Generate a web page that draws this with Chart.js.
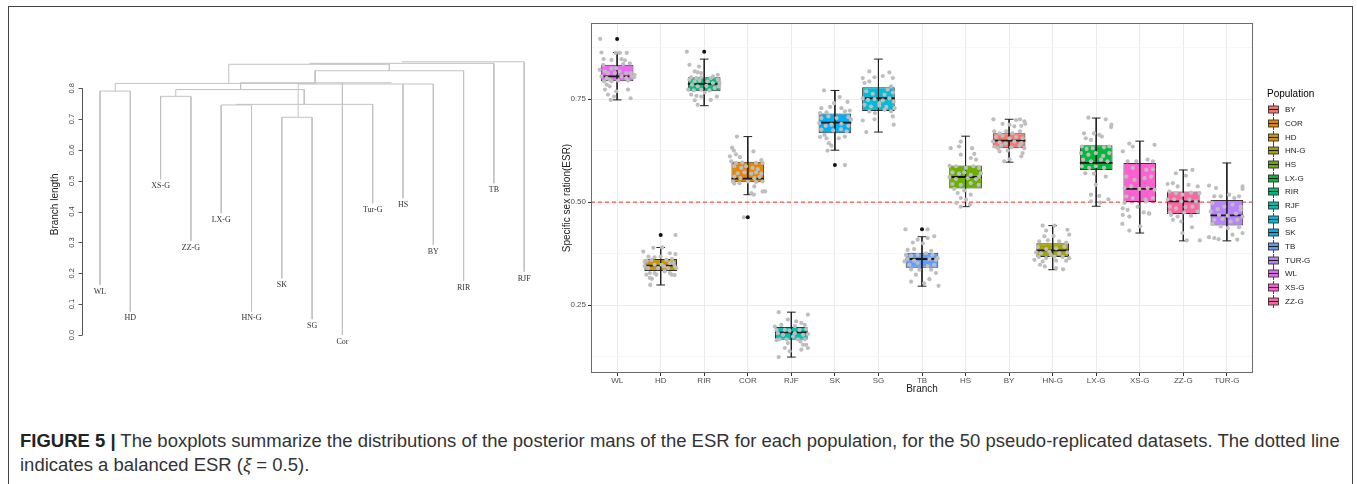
<!DOCTYPE html>
<html>
<head>
<meta charset="utf-8">
<script src="https://cdn.jsdelivr.net/npm/chart.js@4.4.1/dist/chart.umd.min.js"></script>
<style>
html,body{margin:0;padding:0;background:#fff;width:1357px;height:484px;overflow:hidden;font-family:"Liberation Sans",Arial,sans-serif;}
#frame{position:absolute;left:8px;top:6px;width:1345px;height:520px;border:1px solid #444;box-sizing:border-box;}
#dendro{position:absolute;left:40px;top:40px;}
#box{position:absolute;left:555px;top:13px;}
#caption{position:absolute;left:20px;top:429px;color:#333;line-height:24px;white-space:nowrap;font-size:16px;}
#caption b{font-weight:bold;color:#222;}
</style>
</head>
<body>
<div id="frame"></div>
<canvas id="dendro" width="520" height="320" style="width:520px;height:320px"></canvas>
<canvas id="box" width="795" height="397" style="width:795px;height:397px"></canvas>
<div id="caption"><div id="cap1"><b>FIGURE 5 |</b> The boxplots summarize the distributions of the posterior mans of the ESR for each population, for the 50 pseudo-replicated datasets. The dotted line</div><div id="cap2">indicates a balanced ESR (<i>ξ</i> = 0.5).</div></div>
<script>
// ---------------- Box plot data ----------------
const categories  = ['WL','HD','RIR','COR','RJF','SK','SG','TB','HS','BY','HN-G','LX-G','XS-G','ZZ-G','TUR-G'];
const whiskerLow  = [0.748,0.299,0.734,0.518,0.124,0.626,0.670,0.296,0.489,0.597,0.336,0.490,0.425,0.406,0.406];
const q1          = [0.793,0.333,0.769,0.548,0.166,0.667,0.721,0.341,0.533,0.631,0.367,0.578,0.500,0.471,0.443];
const medians     = [0.805,0.346,0.787,0.557,0.184,0.693,0.752,0.362,0.561,0.649,0.383,0.595,0.532,0.502,0.468];
const q3          = [0.833,0.362,0.803,0.598,0.197,0.715,0.779,0.377,0.589,0.667,0.400,0.638,0.595,0.526,0.505];
const whiskerHigh = [0.863,0.390,0.847,0.659,0.233,0.771,0.847,0.416,0.660,0.701,0.443,0.704,0.648,0.578,0.595];
const outliers    = [[0.896],[0.420],[0.865],[0.463],[],[0.590],[],[0.434],[],[],[],[],[],[],[]];
const balancedESR = 0.5;
const yMajorTicks = [0.25,0.50,0.75];
const yMinorTicks = [0.125,0.375,0.625,0.875];

const legendTitle      = 'Population';
const populations      = ['BY','COR','HD','HN-G','HS','LX-G','RIR','RJF','SG','SK','TB','TUR-G','WL','XS-G','ZZ-G'];
const populationColors = ['#F8766D','#E58700','#C99800','#A3A500','#6BB100','#00BA38','#00BF7D','#00C0AF','#00BCD8','#00B0F6','#619CFF','#B983FF','#E76BF3','#FD61D1','#FF67A4'];

// jittered replicate estimates: [horizontal jitter (category units), ESR]
const jitterWL = [[-0.39,0.896],[-0.36,0.863],[-0.03,0.862],[0.06,0.862],[0.22,0.862],[-0.31,0.847],[-0.13,0.845],[0.10,0.847],[0.18,0.844],[0.29,0.837],[0.14,0.835],[-0.32,0.833],[-0.13,0.824],[-0.02,0.825],[-0.40,0.821],[-0.28,0.817],[-0.21,0.813],[-0.05,0.813],[0.06,0.817],[0.21,0.813],[0.31,0.813],[0.40,0.809],[-0.36,0.805],[-0.24,0.801],[-0.17,0.797],[0.10,0.805],[0.21,0.801],[0.33,0.805],[0.39,0.803],[-0.30,0.793],[-0.13,0.793],[0.02,0.795],[0.25,0.795],[-0.24,0.785],[-0.17,0.781],[-0.28,0.773],[-0.02,0.769],[0.25,0.773],[-0.21,0.761],[-0.07,0.756],[-0.15,0.748],[0.31,0.752]];
const jitterHD = [[0.34,0.420],[-0.40,0.380],[-0.17,0.389],[0.03,0.390],[0.21,0.376],[0.34,0.374],[-0.28,0.368],[-0.14,0.366],[0.00,0.368],[-0.32,0.358],[-0.21,0.360],[0.13,0.360],[0.26,0.362],[-0.37,0.345],[-0.29,0.340],[-0.14,0.348],[0.02,0.348],[0.21,0.352],[0.32,0.345],[0.36,0.340],[-0.25,0.328],[-0.14,0.328],[0.21,0.328],[0.25,0.324],[0.32,0.323],[-0.33,0.324],[-0.25,0.316],[-0.20,0.314],[-0.10,0.324],[-0.24,0.299],[0.09,0.332],[-0.06,0.340],[0.08,0.344],[0.17,0.340],[-0.37,0.355],[0.29,0.352]];
const jitterRIR = [[-0.40,0.865],[-0.34,0.833],[-0.12,0.829],[-0.22,0.817],[-0.15,0.815],[-0.07,0.813],[-0.30,0.803],[-0.18,0.801],[-0.07,0.803],[0.15,0.801],[0.31,0.809],[-0.22,0.793],[-0.11,0.795],[0.08,0.793],[0.20,0.789],[0.31,0.797],[0.35,0.789],[-0.28,0.785],[-0.15,0.781],[0.05,0.782],[0.24,0.777],[0.33,0.781],[-0.37,0.773],[-0.24,0.771],[-0.07,0.773],[0.12,0.771],[-0.30,0.761],[-0.18,0.758],[-0.07,0.756],[0.29,0.756],[-0.22,0.747],[-0.15,0.736],[0.15,0.748],[0.01,0.766],[-0.34,0.797],[0.20,0.805]];
const jitterCOR = [[-0.25,0.659],[-0.36,0.632],[-0.32,0.625],[-0.27,0.616],[-0.41,0.611],[-0.18,0.609],[0.13,0.623],[0.31,0.602],[-0.38,0.599],[-0.27,0.595],[-0.13,0.596],[0.19,0.595],[0.34,0.595],[-0.31,0.587],[-0.15,0.583],[-0.04,0.587],[0.11,0.583],[0.23,0.580],[-0.23,0.570],[-0.08,0.572],[0.08,0.569],[0.19,0.572],[0.31,0.569],[-0.31,0.562],[-0.17,0.558],[0.15,0.558],[0.27,0.561],[-0.34,0.550],[-0.19,0.546],[0.00,0.550],[0.19,0.549],[0.34,0.550],[-0.31,0.545],[0.15,0.538],[0.34,0.526],[0.40,0.526],[0.08,0.522],[0.14,0.518],[-0.09,0.463]];
const jitterRJF = [[-0.29,0.233],[0.38,0.227],[-0.08,0.215],[0.11,0.211],[0.23,0.207],[-0.38,0.198],[-0.23,0.202],[0.08,0.199],[0.31,0.202],[-0.34,0.190],[-0.15,0.190],[-0.04,0.188],[0.19,0.190],[0.34,0.192],[-0.31,0.182],[-0.19,0.178],[0.08,0.182],[0.27,0.178],[0.38,0.180],[-0.27,0.167],[-0.11,0.167],[0.15,0.167],[0.31,0.167],[-0.34,0.165],[0.21,0.162],[0.38,0.146],[0.27,0.154],[-0.08,0.158],[-0.15,0.146],[-0.04,0.138],[-0.29,0.124],[0.23,0.142],[0.34,0.154],[0.04,0.174]];
const jitterSK = [[-0.25,0.771],[0.11,0.755],[0.29,0.743],[-0.31,0.728],[-0.11,0.731],[0.15,0.728],[0.34,0.722],[-0.34,0.716],[-0.19,0.718],[0.23,0.720],[-0.31,0.704],[-0.15,0.708],[0.04,0.704],[0.31,0.706],[-0.36,0.692],[-0.21,0.685],[-0.08,0.688],[0.15,0.690],[0.31,0.685],[-0.31,0.676],[-0.04,0.674],[0.14,0.677],[0.27,0.672],[-0.34,0.658],[-0.19,0.655],[0.09,0.655],[0.23,0.659],[-0.14,0.643],[-0.08,0.637],[-0.17,0.625],[0.23,0.590],[-0.24,0.663],[0.37,0.700],[-0.02,0.740]];
const jitterSG = [[-0.21,0.817],[0.25,0.815],[-0.36,0.801],[-0.09,0.803],[0.10,0.806],[0.33,0.801],[-0.32,0.789],[-0.21,0.793],[0.29,0.781],[0.21,0.773],[-0.28,0.769],[-0.13,0.763],[0.14,0.761],[0.33,0.766],[-0.36,0.752],[-0.24,0.748],[-0.09,0.750],[0.10,0.747],[0.25,0.752],[0.35,0.744],[-0.32,0.736],[-0.17,0.732],[0.02,0.734],[0.18,0.731],[0.37,0.728],[-0.21,0.720],[-0.08,0.716],[0.14,0.724],[0.29,0.720],[-0.36,0.698],[-0.09,0.701],[0.33,0.708],[0.35,0.688],[-0.28,0.670],[0.02,0.740]];
const jitterTB = [[-0.38,0.434],[0.13,0.434],[-0.10,0.409],[0.13,0.413],[0.28,0.417],[-0.21,0.402],[0.02,0.400],[-0.33,0.384],[-0.18,0.386],[0.21,0.382],[-0.37,0.372],[-0.25,0.370],[-0.10,0.372],[0.09,0.376],[0.24,0.372],[-0.33,0.362],[-0.18,0.358],[0.17,0.362],[0.32,0.360],[-0.29,0.348],[-0.10,0.352],[0.13,0.345],[0.28,0.348],[-0.25,0.337],[-0.06,0.336],[0.21,0.336],[0.32,0.328],[-0.14,0.324],[0.17,0.313],[-0.25,0.307],[0.05,0.303],[0.38,0.297],[0.36,0.364],[-0.40,0.356]];
const jitterHS = [[-0.11,0.647],[-0.34,0.631],[-0.15,0.635],[0.15,0.631],[-0.11,0.615],[0.20,0.617],[0.12,0.607],[0.24,0.603],[-0.37,0.588],[-0.22,0.587],[0.01,0.583],[0.18,0.587],[0.31,0.583],[-0.30,0.572],[-0.15,0.569],[-0.03,0.572],[0.12,0.566],[0.31,0.562],[-0.37,0.561],[-0.22,0.556],[0.05,0.558],[0.24,0.556],[-0.30,0.544],[-0.11,0.542],[0.12,0.546],[0.30,0.542],[-0.26,0.532],[-0.03,0.528],[-0.18,0.522],[0.12,0.518],[-0.11,0.510],[0.01,0.506],[-0.21,0.498],[-0.11,0.489],[0.10,0.494],[0.35,0.570]];
const jitterBY = [[-0.36,0.701],[0.16,0.699],[0.25,0.701],[0.35,0.696],[-0.15,0.690],[0.01,0.688],[0.12,0.684],[0.28,0.685],[0.37,0.690],[-0.34,0.672],[-0.22,0.667],[-0.07,0.672],[0.08,0.667],[0.25,0.672],[-0.30,0.658],[-0.15,0.661],[0.01,0.655],[0.16,0.658],[0.31,0.655],[-0.37,0.647],[-0.22,0.645],[-0.08,0.642],[0.12,0.647],[0.28,0.643],[-0.34,0.635],[-0.18,0.637],[0.05,0.633],[0.24,0.637],[0.35,0.631],[-0.22,0.623],[-0.03,0.625],[0.31,0.619],[0.28,0.611],[-0.11,0.599],[0.01,0.604],[-0.26,0.631]];
const jitterHNG = [[-0.23,0.443],[0.04,0.443],[-0.15,0.431],[0.34,0.433],[-0.19,0.417],[0.02,0.418],[0.38,0.421],[-0.31,0.405],[-0.11,0.407],[0.15,0.405],[0.31,0.402],[-0.34,0.391],[-0.15,0.386],[0.08,0.388],[0.27,0.392],[-0.38,0.378],[-0.27,0.376],[-0.08,0.380],[0.15,0.376],[0.34,0.378],[-0.32,0.367],[-0.15,0.364],[0.04,0.368],[0.23,0.367],[0.38,0.364],[-0.42,0.360],[-0.23,0.356],[0.08,0.358],[0.31,0.358],[-0.29,0.348],[-0.18,0.344],[0.08,0.340],[0.24,0.337],[-0.04,0.372]];
const jitterLXG = [[-0.18,0.705],[0.22,0.701],[-0.28,0.667],[-0.05,0.667],[0.07,0.663],[0.13,0.659],[0.35,0.688],[0.34,0.682],[-0.24,0.655],[-0.12,0.651],[-0.33,0.635],[-0.22,0.629],[-0.08,0.631],[0.18,0.633],[0.30,0.635],[-0.35,0.619],[-0.18,0.615],[-0.01,0.619],[0.16,0.612],[0.30,0.619],[-0.30,0.603],[-0.12,0.599],[0.11,0.603],[0.26,0.599],[-0.33,0.587],[-0.16,0.583],[-0.01,0.587],[0.18,0.583],[-0.05,0.569],[0.22,0.562],[-0.01,0.542],[-0.12,0.518],[0.07,0.515],[0.09,0.499],[-0.12,0.502],[0.28,0.507],[-0.25,0.570]];
const jitterXSG = [[-0.24,0.642],[-0.16,0.635],[0.34,0.639],[-0.28,0.599],[-0.08,0.599],[0.18,0.603],[0.30,0.599],[-0.39,0.623],[-0.16,0.583],[0.15,0.578],[0.30,0.580],[-0.31,0.562],[-0.12,0.554],[0.11,0.558],[0.26,0.562],[-0.35,0.534],[-0.20,0.538],[-0.01,0.532],[0.18,0.534],[0.34,0.530],[-0.31,0.514],[-0.16,0.510],[0.13,0.506],[0.30,0.510],[-0.39,0.485],[-0.28,0.481],[-0.05,0.489],[0.09,0.475],[0.21,0.473],[-0.39,0.469],[-0.24,0.465],[0.22,0.472],[-0.40,0.447],[-0.24,0.431],[0.01,0.441],[0.15,0.502],[-0.35,0.498]];
const jitterZZG = [[-0.17,0.570],[0.21,0.578],[0.06,0.564],[-0.36,0.544],[-0.24,0.546],[-0.13,0.538],[0.12,0.542],[0.33,0.538],[-0.32,0.526],[-0.17,0.522],[-0.02,0.518],[0.18,0.523],[0.37,0.522],[-0.36,0.506],[-0.21,0.507],[-0.05,0.502],[0.14,0.506],[0.29,0.502],[-0.31,0.489],[-0.17,0.485],[0.05,0.488],[0.21,0.489],[-0.28,0.469],[-0.13,0.465],[0.02,0.475],[0.18,0.467],[-0.24,0.457],[-0.05,0.453],[0.20,0.439],[-0.02,0.425],[0.08,0.407],[0.38,0.407],[-0.31,0.475],[0.33,0.477]];
const jitterTURG = [[-0.41,0.540],[-0.25,0.534],[0.36,0.538],[0.36,0.532],[-0.29,0.514],[-0.14,0.514],[0.05,0.518],[0.17,0.510],[0.28,0.514],[-0.33,0.498],[-0.21,0.483],[-0.06,0.489],[0.13,0.494],[0.32,0.489],[-0.37,0.477],[-0.18,0.469],[0.02,0.467],[0.21,0.472],[0.36,0.465],[-0.29,0.457],[-0.10,0.459],[0.09,0.453],[0.24,0.457],[-0.33,0.447],[-0.14,0.441],[0.02,0.437],[0.28,0.439],[0.36,0.425],[-0.41,0.415],[-0.29,0.413],[-0.19,0.410],[0.24,0.409],[0.13,0.421],[0.32,0.481]];
const jitterGroups = [jitterWL,jitterHD,jitterRIR,jitterCOR,jitterRJF,jitterSK,jitterSG,jitterTB,jitterHS,jitterBY,jitterHNG,jitterLXG,jitterXSG,jitterZZG,jitterTURG];

// ---------------- Dendrogram data ----------------
const leafNames   = ['WL','HD','XS-G','ZZ-G','LX-G','HN-G','SK','SG','Cor','Tur-G','HS','BY','RIR','TB','RJF'];
const leafHeights = [0.162,0.076,0.505,0.305,0.395,0.076,0.184,0.051,0.000,0.427,0.443,0.292,0.175,0.492,0.205];
const leafJoins   = [0.791,0.791,0.774,0.774,0.746,0.746,0.706,0.706,0.818,0.748,0.814,0.814,0.857,0.881,0.886];
// horizontal node bars: [from leaf position, to leaf position, height]
const nodeBars  = [[1,2,0.791],[1.505,8.10,0.816],[5.25,10.55,0.878],[7.91,14,0.881],[10.96,15,0.886],[8.10,13,0.857],[5.64,10.62,0.818],[7.54,12,0.814],[3,4,0.774],[3.5,7.74,0.796],[5,6,0.746],[5.5,10,0.748],[7,8,0.706]];
// vertical node stems: [leaf position, from height, to height]
const nodeStems = [[1.505,0.791,0.816],[5.25,0.816,0.878],[10.55,0.878,0.857],[8.10,0.857,0.816],[5.64,0.818,0.796],[3.5,0.774,0.796],[7.74,0.796,0.748],[7.54,0.706,0.814],[5.5,0.746,0.748]];
const branchTicks = [0,0.1,0.2,0.3,0.4,0.5,0.6,0.7,0.8];

// ---------------- Box plot chart ----------------
const BOX_HALF = 0.375, CAP_HALF = 0.1;
const colorOf = name => populationColors[populations.indexOf(name)];
const boxData = categories.map((c,i)=>({x:i, y:[q1[i], q3[i]]}));
const medianData = [], whiskerData = [];
categories.forEach((c,i)=>{
  medianData.push({x:i-BOX_HALF,y:medians[i]},{x:i+BOX_HALF,y:medians[i]},{x:i,y:null});
  whiskerData.push({x:i-CAP_HALF,y:whiskerHigh[i]},{x:i+CAP_HALF,y:whiskerHigh[i]},{x:i,y:null},
                   {x:i,y:whiskerHigh[i]},{x:i,y:whiskerLow[i]},{x:i,y:null},
                   {x:i-CAP_HALF,y:whiskerLow[i]},{x:i+CAP_HALF,y:whiskerLow[i]},{x:i,y:null});
});
const jitterData = jitterGroups.flatMap((g,i)=>g.map(p=>({x:i+p[0], y:p[1]})));
const outlierData = outliers.flatMap((g,i)=>g.map(v=>({x:i, y:v})));
const xMin = -0.6, xMax = categories.length - 1 + 0.6;
const refData = [{x:xMin,y:balancedESR},{x:xMax,y:balancedESR}];

const panelBorder = {
  id:'panelBorder',
  beforeDraw(chart){ const c=chart.ctx; c.save(); c.fillStyle='#fff'; c.fillRect(0,0,chart.width,chart.height); c.restore(); },
  afterDraw(chart){
    const {ctx, chartArea:a} = chart;
    ctx.save(); ctx.strokeStyle='#6b6b6b'; ctx.lineWidth=1;
    ctx.strokeRect(Math.round(a.left)+0.5, Math.round(a.top)+0.5, Math.round(a.right-a.left)-1, Math.round(a.bottom-a.top)-1);
    // legend (ggplot style keys)
    const lx = Math.round(a.right) + 14, ty = 81, y0 = 96.3, step = 13.67;
    ctx.fillStyle = '#000'; ctx.font = '10px "Liberation Sans"';
    ctx.textAlign = 'left'; ctx.textBaseline = 'middle';
    ctx.fillText(legendTitle, lx, ty);
    ctx.font = '8px "Liberation Sans"'; 
    populations.forEach((p,k)=>{
      const cy = Math.round(y0 + k*step) + 0.5, kx = lx + 1.5;
      ctx.strokeStyle = '#333'; ctx.lineWidth = 0.9;
      ctx.beginPath(); ctx.moveTo(kx+5, cy-6.5); ctx.lineTo(kx+5, cy+6.5); ctx.stroke();
      ctx.fillStyle = populationColors[k];
      ctx.fillRect(kx, cy-3.5, 10, 7);
      ctx.strokeRect(kx, cy-3.5, 10, 7);
      ctx.strokeStyle = '#222'; ctx.lineWidth = 1.1;
      ctx.beginPath(); ctx.moveTo(kx, cy); ctx.lineTo(kx+10, cy); ctx.stroke();
      ctx.fillStyle = '#1a1a1a';
      ctx.fillText(p, lx + 18, cy);
    });
    ctx.restore();
  }
};

new Chart(document.getElementById('box'), {
  type:'bar',
  data:{ datasets:[
    {type:'line', data:refData, borderColor:'#ff2a2a', borderWidth:1, borderDash:[4,3], pointRadius:0, order:6},
    {type:'bar', data:boxData, backgroundColor:categories.map(colorOf), borderColor:'#333333', borderWidth:1, borderSkipped:false, barPercentage:0.75, categoryPercentage:1, order:5},
    {type:'line', data:whiskerData, borderColor:'#222', borderWidth:1, pointRadius:0, spanGaps:false, order:4},
    {type:'line', data:medianData, borderColor:'#1a1a1a', borderWidth:1.8, pointRadius:0, spanGaps:false, order:3},
    {type:'scatter', data:jitterData, backgroundColor:'#bebebe', borderWidth:0, pointRadius:2.1, order:2},
    {type:'scatter', data:outlierData, backgroundColor:'#111', borderWidth:0, pointRadius:2, order:1}
  ]},
  options:{
    responsive:false, animation:false, devicePixelRatio:1,
    layout:{padding:{top:10,right:97,left:0,bottom:0}},
    plugins:{legend:{display:false}, tooltip:{enabled:false}},
    scales:{
      x:{type:'linear', min:xMin, max:xMax, offset:false,
        afterBuildTicks:s=>{ s.ticks = categories.map((c,i)=>({value:i})); },
        afterFit:s=>{ s.height = 37; },
        ticks:{callback:v=>categories[v], font:{family:'Liberation Sans', size:8}, color:'#4d4d4d', padding:0, autoSkip:false, maxRotation:0, minRotation:0},
        grid:{offset:false, color:'#ebebeb', lineWidth:1, tickLength:3, tickColor:'#333', drawTicks:true},
        border:{display:false},
        title:{display:true, text:'Branch', font:{family:'Liberation Sans', size:10}, color:'#1a1a1a', padding:{top:0,bottom:14.3}}
      },
      y:{type:'linear', min:0.0854, max:0.9346,
        afterBuildTicks:s=>{ s.ticks = [...yMinorTicks, ...yMajorTicks].sort((a,b)=>a-b).map(v=>({value:v})); },
        afterFit:s=>{ s.width = 36; },
        ticks:{callback:v=>yMajorTicks.includes(v)?v.toFixed(2):'', font:{family:'Liberation Sans', size:8}, color:'#4d4d4d', padding:2},
        grid:{color:c=>yMajorTicks.includes(c.tick&&c.tick.value)?'#ebebeb':'#f4f4f4',
              lineWidth:c=>yMajorTicks.includes(c.tick&&c.tick.value)?1:0.7,
              tickColor:c=>yMajorTicks.includes(c.tick&&c.tick.value)?'#333':'rgba(0,0,0,0)',
              tickLength:3, drawTicks:true},
        border:{display:false},
        title:{display:true, text:'Specific sex ration(ESR)', font:{family:'Liberation Sans', size:10}, color:'#1a1a1a', padding:{top:6.7,bottom:0}}
      }
    }
  },
  plugins:[panelBorder]
});

// ---------------- Dendrogram chart ----------------
const treeData = [];
leafNames.forEach((n,i)=>{ treeData.push({x:i+1,y:leafJoins[i]},{x:i+1,y:leafHeights[i]},{x:i+1,y:null}); });
nodeBars.forEach(b=>{ treeData.push({x:b[0],y:b[2]},{x:b[1],y:b[2]},{x:b[0],y:null}); });
nodeStems.forEach(s=>{ treeData.push({x:s[0],y:s[1]},{x:s[0],y:s[2]},{x:s[0],y:null}); });

const dendroDecor = {
  id:'dendroDecor',
  afterDraw(chart){
    const {ctx, chartArea:a, scales:{x, y}} = chart;
    ctx.save();
    const ax = Math.round(a.left) - 0.5;
    ctx.strokeStyle = '#555'; ctx.lineWidth = 1;
    ctx.beginPath();
    ctx.moveTo(ax, y.getPixelForValue(branchTicks[0]));
    ctx.lineTo(ax, y.getPixelForValue(branchTicks[branchTicks.length-1]));
    branchTicks.forEach(t=>{ const py = Math.round(y.getPixelForValue(t))+0.5; ctx.moveTo(ax, py); ctx.lineTo(ax-4, py); });
    ctx.stroke();
    ctx.fillStyle = '#444';
    ctx.font = '7.5px "Liberation Sans"';
    ctx.textAlign = 'center'; ctx.textBaseline = 'middle';
    branchTicks.forEach(t=>{
      ctx.save(); ctx.translate(ax-11, y.getPixelForValue(t)); ctx.rotate(-Math.PI/2);
      ctx.fillText(t.toFixed(1), 0, 0); ctx.restore();
    });
    ctx.fillStyle = '#222';
    ctx.font = '10px "Liberation Sans"';
    ctx.save(); ctx.translate(ax-27, (a.top+a.bottom)/2 + 2); ctx.rotate(-Math.PI/2);
    ctx.fillText('Branch length', 0, 0); ctx.restore();
    ctx.fillStyle = '#333';
    ctx.font = '8px "Liberation Serif"';
    leafNames.forEach((n,i)=>{
      ctx.fillText(n, x.getPixelForValue(i+1), y.getPixelForValue(leafHeights[i]) + 6.8);
    });
    ctx.restore();
  }
};

new Chart(document.getElementById('dendro'), {
  type:'scatter',
  data:{datasets:[{data:treeData, showLine:true, spanGaps:false, borderColor:'#c2c2c2', borderWidth:1, pointRadius:0}]},
  options:{
    responsive:false, animation:false, devicePixelRatio:1,
    layout:{padding:{left:43, top:14.4, right:5.5, bottom:9.6}},
    plugins:{legend:{display:false}, tooltip:{enabled:false}},
    scales:{
      x:{type:'linear', min:0.439, max:16, display:false},
      y:{type:'linear', min:-0.05, max:0.91, display:false}
    }
  },
  plugins:[dendroDecor]
});

// ---------------- Caption fit ----------------
const cap = document.getElementById('caption');
const w = document.getElementById('cap1').getBoundingClientRect().width;
cap.style.fontSize = (16 * 1320 / w).toFixed(2) + 'px';
</script>
</body>
</html>
